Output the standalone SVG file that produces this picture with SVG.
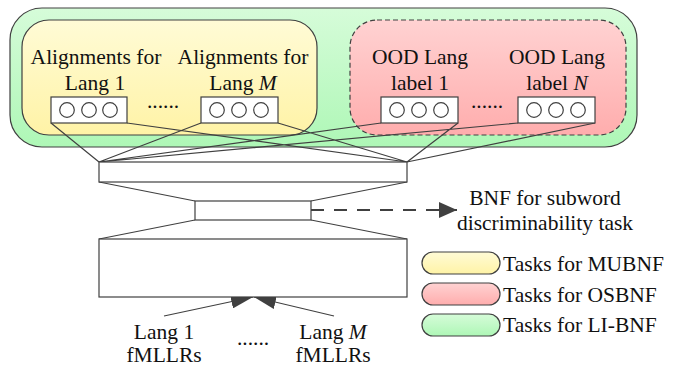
<svg xmlns="http://www.w3.org/2000/svg" width="679" height="366" viewBox="0 0 679 366">
<defs>
<linearGradient id="gG" x1="0" y1="0" x2="0" y2="1"><stop offset="0" stop-color="#d6fcd9"/><stop offset="1" stop-color="#aef7b6"/></linearGradient>
<linearGradient id="gY" x1="0" y1="0" x2="0" y2="1"><stop offset="0" stop-color="#fffbd6"/><stop offset="1" stop-color="#fff3a6"/></linearGradient>
<linearGradient id="gR" x1="0" y1="0" x2="0" y2="1"><stop offset="0" stop-color="#ffd2d2"/><stop offset="1" stop-color="#ffadad"/></linearGradient>
<marker id="ah" viewBox="0 0 10 10" refX="10" refY="5" markerWidth="22" markerHeight="14" markerUnits="userSpaceOnUse" orient="auto" preserveAspectRatio="none"><path d="M0,0 L10,5 L0,10 Z" fill="#404040"/></marker>
<marker id="ahd" viewBox="0 0 10 10" refX="10" refY="5" markerWidth="18" markerHeight="16" markerUnits="userSpaceOnUse" orient="auto" preserveAspectRatio="none"><path d="M0,0 L10,5 L0,10 Z" fill="#404040"/></marker>
</defs>
<style>
.s{stroke:#404040;stroke-width:1.2;fill:none}
.w{stroke:#404040;stroke-width:1.2;fill:#ffffff}
.c{stroke:#404040;stroke-width:1.2;fill:none}
.t{font-family:"Liberation Serif","Times New Roman",serif;font-size:21.5px;fill:#111}
.m{text-anchor:middle}
</style>
<g id="li-bnf-region"><rect x="10" y="8" width="627" height="139" rx="32" ry="32" fill="url(#gG)" stroke="#404040" stroke-width="1.2"/></g>
<g id="mubnf-region"><rect x="22" y="20" width="295" height="115" rx="27" ry="27" fill="url(#gY)" stroke="#404040" stroke-width="1.2"/></g>
<g id="osbnf-region"><rect x="350" y="20" width="276" height="115" rx="27" ry="27" fill="url(#gR)" stroke="#404040" stroke-width="1.2" stroke-dasharray="5,3"/></g>

<g id="connectors">
<path class="s" d="M51,123 L99,162 M127,123 L407,162 M201,123 L99,162 M278,123 L407,162 M381,123 L99,162 M458,123 L407,162 M518,123 L99,162 M595,123 L407,162"/>
<path class="s" d="M99,182 L195,201 M407,182 L311,201 M195,220 L99,239 M311,220 L407,239"/>
<path d="M311,210 L457,210" stroke="#404040" stroke-width="2.2" fill="none" stroke-dasharray="13,10" marker-end="url(#ahd)"/>
<path class="s" d="M164,316 L253,297" marker-end="url(#ah)"/>
<path class="s" d="M334,316 L254,297" marker-end="url(#ah)"/>
</g>

<g id="align-lang1">
<text class="t m" x="96" y="64">Alignments for</text>
<text class="t m" x="95" y="90">Lang 1</text>
<rect class="w" x="51" y="97" width="76" height="26"/>
<circle class="c" cx="67" cy="110" r="7.3"/><circle class="c" cx="89" cy="110" r="7.3"/><circle class="c" cx="110" cy="110" r="7.3"/>
</g>
<g id="align-dots"><text class="t m" x="163" y="108">......</text></g>
<g id="align-langM">
<text class="t m" x="243" y="64">Alignments for</text>
<text class="t m" x="243" y="90">Lang <tspan font-style="italic">M</tspan></text>
<rect class="w" x="201" y="97" width="77" height="26"/>
<circle class="c" cx="217" cy="110" r="7.3"/><circle class="c" cx="239" cy="110" r="7.3"/><circle class="c" cx="261" cy="110" r="7.3"/>
</g>
<g id="ood-label1">
<text class="t m" x="420" y="64">OOD Lang</text>
<text class="t m" x="420" y="90">label 1</text>
<rect class="w" x="381" y="97" width="77" height="26"/>
<circle class="c" cx="397" cy="110" r="7.3"/><circle class="c" cx="419" cy="110" r="7.3"/><circle class="c" cx="441" cy="110" r="7.3"/>
</g>
<g id="ood-dots"><text class="t m" x="487" y="108">......</text></g>
<g id="ood-labelN">
<text class="t m" x="557" y="64">OOD Lang</text>
<text class="t m" x="557" y="90">label <tspan font-style="italic">N</tspan></text>
<rect class="w" x="518" y="97" width="77" height="26"/>
<circle class="c" cx="534" cy="110" r="7.3"/><circle class="c" cx="556" cy="110" r="7.3"/><circle class="c" cx="578" cy="110" r="7.3"/>
</g>

<g id="top-layer"><rect class="w" x="99" y="162" width="308" height="20"/></g>
<g id="bottleneck"><rect class="w" x="195" y="201" width="116" height="19"/></g>
<g id="bottom-layer"><rect class="w" x="99" y="239" width="308" height="58"/></g>

<g id="bnf-label">
<text class="t m" x="545" y="205">BNF for subword</text>
<text class="t m" x="545" y="230">discriminability task</text>
</g>

<g id="input-lang1">
<text class="t m" x="164" y="339">Lang 1</text>
<text class="t m" x="164" y="362">fMLLRs</text>
</g>
<g id="input-dots"><text class="t m" x="253" y="345">......</text></g>
<g id="input-langM">
<text class="t m" x="333" y="339">Lang <tspan font-style="italic">M</tspan></text>
<text class="t m" x="333" y="362">fMLLRs</text>
</g>

<g id="legend-mubnf">
<rect x="422" y="252" width="78" height="22" rx="11" ry="11" fill="url(#gY)" stroke="#404040" stroke-width="1.2"/>
<text class="t" x="503" y="271">Tasks for MUBNF</text>
</g>
<g id="legend-osbnf">
<rect x="422" y="283" width="78" height="22" rx="11" ry="11" fill="url(#gR)" stroke="#404040" stroke-width="1.2"/>
<text class="t" x="503" y="302">Tasks for OSBNF</text>
</g>
<g id="legend-libnf">
<rect x="422" y="314" width="78" height="22" rx="11" ry="11" fill="url(#gG)" stroke="#404040" stroke-width="1.2"/>
<text class="t" x="503" y="332">Tasks for LI-BNF</text>
</g>
</svg>
